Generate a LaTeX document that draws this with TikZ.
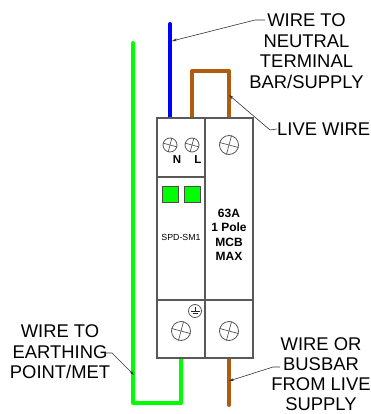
\documentclass[tikz,border=0pt]{standalone}
\usepackage{fontspec}
\setmainfont{Liberation Sans}
\usetikzlibrary{arrows.meta}
\tikzset{
	wire/.style = {line width=4pt, line cap=round, line join=round},
	case/.style = {draw=black!65, line width=1.2pt},
	leader/.style = {draw=black!80, line width=0.6pt},
	tip/.style = {leader, {Stealth[length=5pt,width=3pt]}-},
	callout/.style = {align=center, font=\fontsize{18.4}{20.5}\selectfont, inner sep=0pt},
	lamp/.style = {rectangle, draw=black!70, fill=green, line width=1pt, minimum size=16pt, inner sep=0pt},
	screw/.style = {circle, draw=black!65, line width=0.8pt, minimum size=#1, inner sep=0pt},
	cross/.style = {black!65, line width=0.7pt},
	ground/.style = {black!85, line width=0.9pt}
}
\definecolor{livebrown}{RGB}{176,92,14}
\begin{document}
\begin{tikzpicture}[x=1pt, y=-1pt]
	\useasboundingbox (0,0) rectangle (371,414);
	% wires
	\coordinate (neutraltop) at (170,24);
	\coordinate (neutralend) at (170,118);
	\coordinate (liveA) at (192,118);
	\coordinate (liveB) at (192,71);
	\coordinate (liveC) at (229,71);
	\coordinate (liveD) at (229,118);
	\coordinate (earthtop) at (133,43);
	\coordinate (earthA) at (133,403);
	\coordinate (earthB) at (181,403);
	\coordinate (earthend) at (181,358);
	\coordinate (supplytop) at (229,358);
	\coordinate (supplyend) at (229,405);
	\draw [wire, blue] (neutraltop) -- (neutralend);
	\draw [wire, livebrown] (liveA) -- (liveB) -- (liveC) -- (liveD);
	\draw [wire, green] (earthtop) -- (earthA) -- (earthB) -- (earthend);
	\draw [wire, livebrown] (supplytop) -- (supplyend);
	% body
	\draw [case, fill=white] (157,118) rectangle (253,358);
	\draw [case] (205,118) -- (205,358);
	\draw [case] (157,177) -- (205,177);
	\draw [case] (157,300) -- (253,300);
	\node [lamp] (lamp1) at (170,194.5) {};
	\node [lamp] (lamp2) at (192,194.5) {};
	% screws
	\foreach \name/\px/\py/\sz in {s1/170/145/14pt, s2/192/145/14pt, s3/229/145/19pt, s4/181/331/19pt, s5/229/331/19pt} {
		\node [screw=\sz] (\name) at (\px,\py) {};
		\draw [cross] (\name.75) -- (\name.255);
		\draw [cross] (\name.165) -- (\name.345);
	}
	% earth symbol
	\node [screw=13pt] (earthmark) at (195,311) {};
	\draw [ground] (190.5,311.5) -- (199.5,311.5);
	\draw [ground] (192.5,313.5) -- (197.5,313.5);
	\draw [ground] (195,307) -- (195,311.5);
	% labels on the body
	\node [font=\bfseries\fontsize{11.5}{12}\selectfont, inner sep=0pt] (n) at (177,160) {N};
	\node [font=\bfseries\fontsize{11.5}{12}\selectfont, inner sep=0pt] (l) at (198,160) {L};
	\node [font=\fontsize{8.8}{10}\selectfont, inner sep=0pt] (spd) at (181,237) {SPD-SM1};
	\node [font=\bfseries\fontsize{12}{14.4}\selectfont, align=center, inner sep=0pt] (mcb) at (229,235) {63A\\1 Pole\\MCB\\MAX};
	% callouts
	\node [callout] (neutral) at (306.5,51) {WIRE TO\\NEUTRAL\\TERMINAL\\BAR/SUPPLY};
	\node [callout, anchor=west] (live) at (277,129) {LIVE WIRE};
	\node [callout] (earth) at (60,352) {WIRE TO\\EARTHING\\POINT/MET};
	\node [callout, font=\fontsize{18.4}{20}\selectfont] (busbar) at (321,374) {WIRE OR\\BUSBAR\\FROM LIVE\\SUPPLY};
	\coordinate (neutraltip) at (172,41);
	\coordinate (neutralknee) at (255,20);
	\coordinate (neutralfree) at (265,20);
	\coordinate (livetip) at (229,95);
	\coordinate (liveknee) at (270,130);
	\coordinate (earthtip) at (134,375);
	\coordinate (earthknee) at (112,353);
	\coordinate (earthfree) at (106,353);
	\coordinate (busbartip) at (229,381);
	\coordinate (busbarknee) at (273,367);
	\coordinate (busbarfree) at (280,367);
	\draw [tip] (neutraltip) -- (neutralknee) -- (neutralfree);
	\draw [tip] (livetip) -- (liveknee) -- (live.west);
	\draw [tip] (earthtip) -- (earthknee) -- (earthfree);
	\draw [tip] (busbartip) -- (busbarknee) -- (busbarfree);
\end{tikzpicture}
\end{document}
